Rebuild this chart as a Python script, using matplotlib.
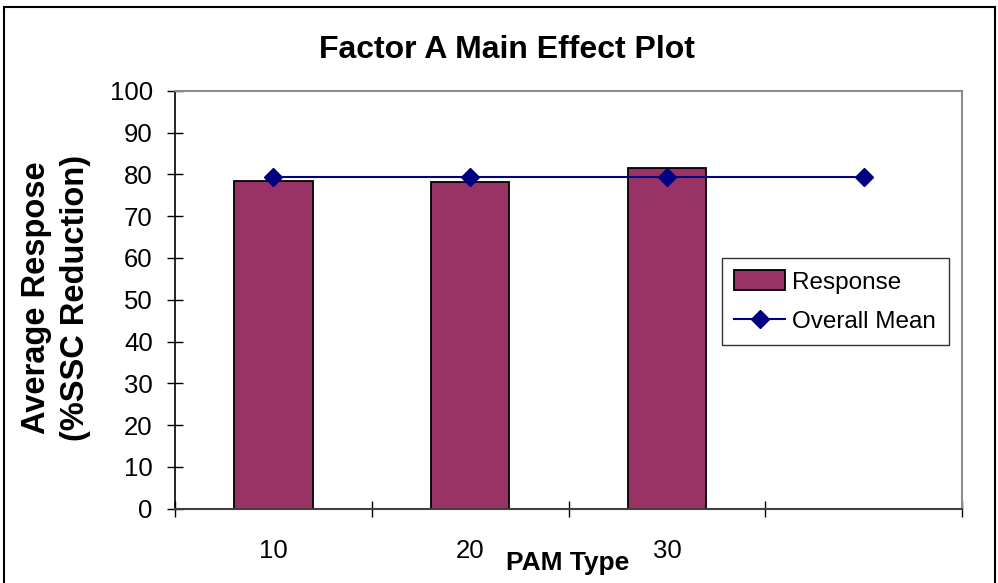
import numpy as np
import matplotlib
matplotlib.use('Agg')
import matplotlib.pyplot as plt
from matplotlib.patches import Rectangle

plt.rcParams['font.family'] = ['Liberation Sans', 'DejaVu Sans']

# factor levels and averaged responses
pam_types = ['10', '20', '30']
responses = [78.5, 78.1, 81.6]
overall_mean = [79.4, 79.4, 79.4, 79.4]

fig = plt.figure(figsize=(9.98, 5.83), dpi=100)
ax = fig.add_axes([175 / 998, 1 - 508.7 / 583, (962 - 175) / 998, 418 / 583])

n_slots = len(overall_mean)
centers = np.arange(n_slots) + 0.5

bars = ax.bar(centers[:len(responses)], responses, width=0.4, color='#993366',
              edgecolor='black', linewidth=1.3, label='Response', zorder=2)
line, = ax.plot(centers, overall_mean, color='#000080', lw=1.5, marker='D',
                markersize=9.5, label='Overall Mean', zorder=3)

ax.set_xlim(0, n_slots)
ax.set_ylim(0, 100)
ax.set_yticks(np.arange(0, 101, 10))

# category boundaries get tick marks, labels sit between them
ax.set_xticks(np.arange(0, n_slots + 1))
ax.set_xticklabels([])
ax.set_xticks(centers[:len(pam_types)], minor=True)
ax.set_xticklabels(pam_types, minor=True)
ax.tick_params(axis='x', which='minor', length=0, pad=22, labelsize=18.5)
ax.tick_params(axis='x', which='major', direction='inout', length=12,
               width=1, color='black')
ax.tick_params(axis='y', direction='inout', length=12, width=1,
               pad=10, labelsize=18.5)

for side in ['top', 'right']:
    ax.spines[side].set_color('#8c8c8c')
    ax.spines[side].set_linewidth(1.5)
ax.spines['left'].set_color('black')
ax.spines['left'].set_linewidth(1.2)
ax.spines['bottom'].set_color('#404040')
ax.spines['bottom'].set_linewidth(1.5)

fig.text(507 / 998, 1 - 50 / 583, 'Factor A Main Effect Plot', ha='center',
         va='center', fontsize=23, fontweight='bold')
fig.text(568 / 998, 1 - 563 / 583, 'PAM Type', ha='center', va='center',
         fontsize=19, fontweight='bold')
fig.text(56 / 998, 1 - 298 / 583, 'Average Respose\n(%SSC Reduction)',
         ha='center', va='center', rotation=90, fontsize=23.5,
         fontweight='bold', linespacing=1.3)

leg = ax.legend([bars, line], ['Response', 'Overall Mean'], loc='upper left',
                bbox_to_anchor=(722 / 998, 1 - 258 / 583),
                bbox_transform=fig.transFigure, fontsize=17.5, frameon=True,
                fancybox=False, borderpad=0.5, handlelength=2.1,
                handleheight=0.9, handletextpad=0.3, labelspacing=0.65,
                borderaxespad=0)
leg.get_frame().set_edgecolor('black')
leg.get_frame().set_linewidth(1.0)

# outer chart border
fig.patches.append(Rectangle((4 / 998, -0.05), 991 / 998, 1.05 - 7 / 583,
                             transform=fig.transFigure, fill=False,
                             edgecolor='black', linewidth=1.5))

fig.savefig('out.png', dpi=100)
